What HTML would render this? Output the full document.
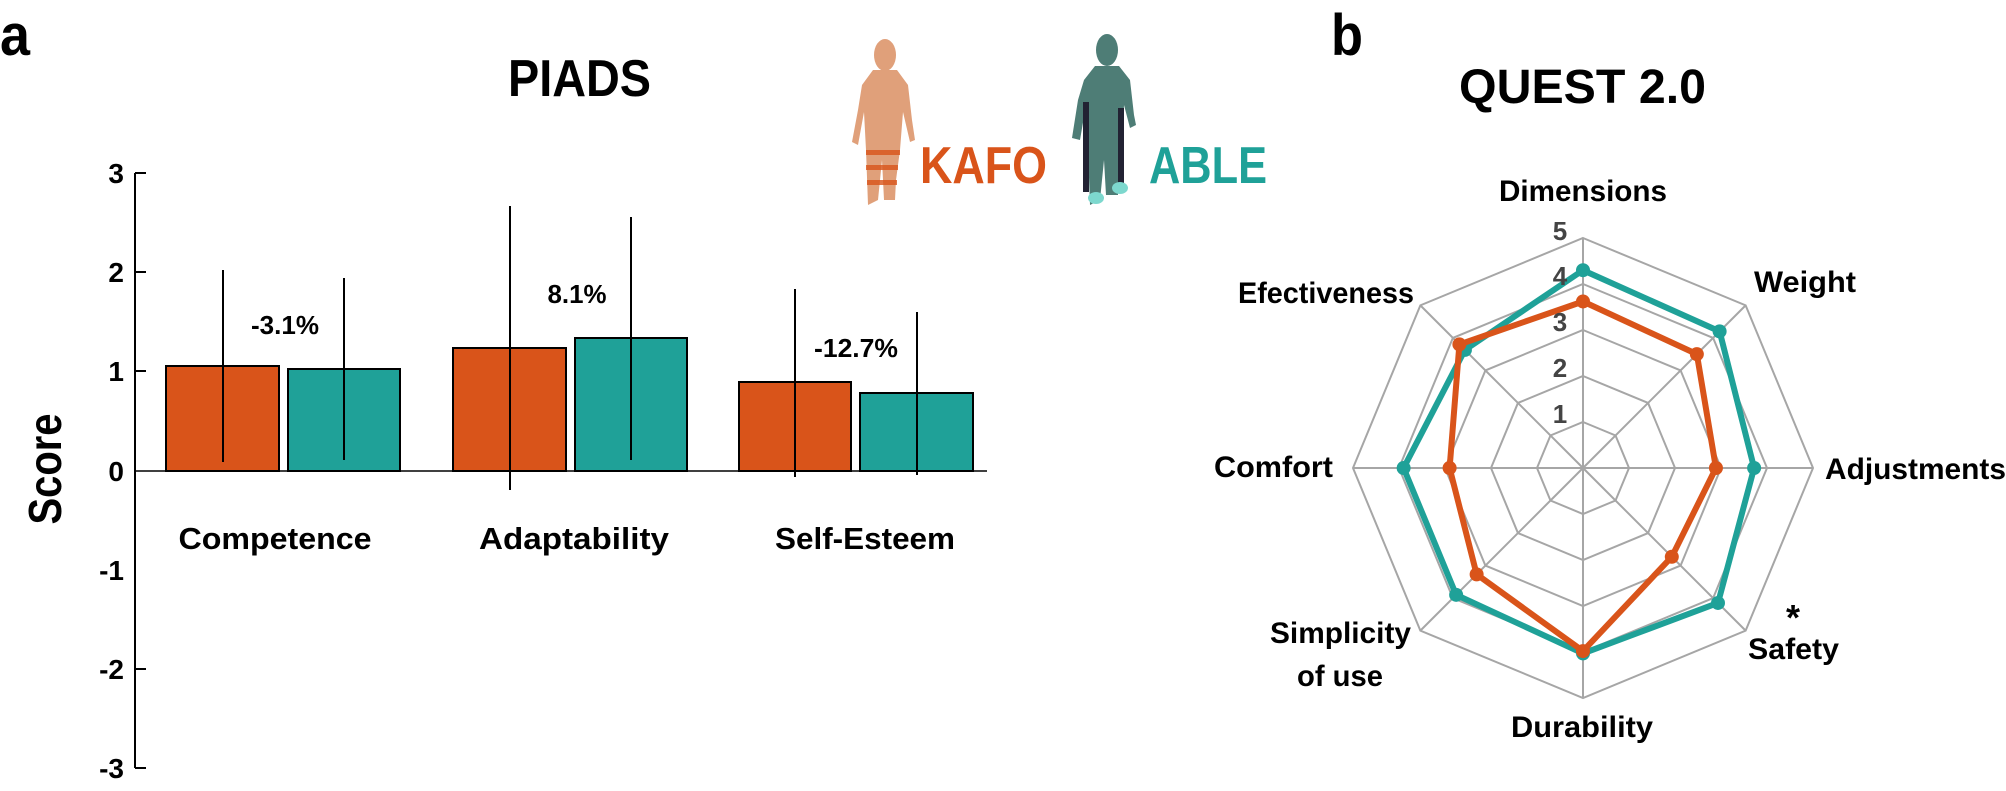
<!DOCTYPE html>
<html><head><meta charset="utf-8"><style>
html,body{margin:0;padding:0;background:#fff;}
svg{display:block;}
text{font-family:"Liberation Sans",sans-serif;font-weight:bold;}
</style></head><body>
<svg id="s" width="2006" height="791" viewBox="0 0 2006 791" xmlns="http://www.w3.org/2000/svg">
<rect width="2006" height="791" fill="#fff"/>
<text x="0" y="55" font-size="58" textLength="30" lengthAdjust="spacingAndGlyphs">a</text>
<text x="508" y="96" font-size="52" textLength="143" lengthAdjust="spacingAndGlyphs">PIADS</text>
<!-- axis -->
<g stroke="#000" stroke-width="2" fill="none">
<line x1="135" y1="173" x2="135" y2="768"/>
<line x1="135" y1="173" x2="146" y2="173"/>
<line x1="135" y1="272" x2="146" y2="272"/>
<line x1="135" y1="371" x2="146" y2="371"/>
<line x1="135" y1="669" x2="146" y2="669"/>
<line x1="135" y1="768" x2="146" y2="768"/>
</g>
<g font-size="28" text-anchor="end">
<text x="124" y="183">3</text><text x="124" y="282">2</text><text x="124" y="381">1</text>
<text x="124" y="481">0</text><text x="124" y="580">-1</text><text x="124" y="679">-2</text><text x="124" y="778">-3</text>
</g>
<g stroke="#000" stroke-width="2">
<rect x="166" y="366" width="113" height="105" fill="#D9541A"/>
<rect x="288" y="369" width="112" height="102" fill="#1FA198"/>
<rect x="453" y="348" width="113" height="123" fill="#D9541A"/>
<rect x="575" y="338" width="112" height="133" fill="#1FA198"/>
<rect x="739" y="382" width="112" height="89" fill="#D9541A"/>
<rect x="860" y="393" width="113" height="78" fill="#1FA198"/>
<line x1="135" y1="471" x2="987" y2="471" stroke-width="1.5"/>
<line x1="223" y1="270" x2="223" y2="462"/>
<line x1="344" y1="278" x2="344" y2="460"/>
<line x1="510" y1="206" x2="510" y2="490"/>
<line x1="631" y1="217" x2="631" y2="460"/>
<line x1="795" y1="289" x2="795" y2="477"/>
<line x1="917" y1="312" x2="917" y2="475"/>
</g>
<g font-size="26" text-anchor="middle">
<text x="285" y="334" textLength="68" lengthAdjust="spacingAndGlyphs">-3.1%</text>
<text x="577" y="303" textLength="59" lengthAdjust="spacingAndGlyphs">8.1%</text>
<text x="856" y="357" textLength="84" lengthAdjust="spacingAndGlyphs">-12.7%</text>
</g>
<g font-size="31" text-anchor="middle">
<text x="275" y="549" textLength="193" lengthAdjust="spacingAndGlyphs">Competence</text>
<text x="574" y="549" textLength="190" lengthAdjust="spacingAndGlyphs">Adaptability</text>
<text x="865" y="549" textLength="180" lengthAdjust="spacingAndGlyphs">Self-Esteem</text>
</g>
<text transform="translate(61,469) rotate(-90)" font-size="46" text-anchor="middle" textLength="111" lengthAdjust="spacingAndGlyphs">Score</text>
<!-- figures -->
<g fill="#E0A07A">
<ellipse cx="885" cy="55" rx="11" ry="16"/>
<path d="M873 70 L897 70 L908 85 L912 120 L915 140 L910 142 L903 112 L900 150 L896 180 L895 200 L884 200 L882 160 L878 200 L868 205 L866 150 L864 112 L858 145 L852 142 L858 110 L862 85 Z"/>
</g>
<g fill="#D9541A" opacity="0.8"><rect x="866" y="150" width="34" height="5"/><rect x="866" y="165" width="32" height="5"/><rect x="867" y="180" width="30" height="5"/></g>
<g fill="#4E7D76">
<ellipse cx="1107" cy="50" rx="11" ry="16"/>
<path d="M1095 66 L1119 66 L1130 80 L1134 115 L1136 125 L1130 128 L1124 105 L1122 150 L1118 175 L1118 195 L1106 195 L1104 160 L1100 200 L1090 205 L1088 150 L1086 105 L1080 140 L1072 138 L1078 100 L1084 80 Z"/>
</g>
<g fill="#223"><rect x="1083" y="102" width="6" height="90"/><rect x="1118" y="108" width="6" height="80"/></g>
<g fill="#7DD8CE"><ellipse cx="1096" cy="198" rx="8" ry="6"/><ellipse cx="1120" cy="188" rx="8" ry="6"/></g>
<text x="920" y="183" font-size="52" fill="#D9541A" textLength="127" lengthAdjust="spacingAndGlyphs">KAFO</text>
<text x="1149" y="183" font-size="52" fill="#1FA198" textLength="118" lengthAdjust="spacingAndGlyphs">ABLE</text>
<!-- panel b -->
<text x="1331" y="55" font-size="58" textLength="32" lengthAdjust="spacingAndGlyphs">b</text>
<text x="1459" y="103" font-size="48" textLength="247" lengthAdjust="spacingAndGlyphs">QUEST 2.0</text>
<g id="radar"></g>
<g font-size="26" fill="#444" text-anchor="middle">
<text x="1560" y="240">5</text><text x="1560" y="285">4</text><text x="1560" y="331">3</text>
<text x="1560" y="377">2</text><text x="1560" y="423">1</text>
</g>
<g font-size="30">
<text x="1499" y="201" textLength="168" lengthAdjust="spacingAndGlyphs">Dimensions</text>
<text x="1754" y="292" textLength="102" lengthAdjust="spacingAndGlyphs">Weight</text>
<text x="1825" y="479" textLength="181" lengthAdjust="spacingAndGlyphs">Adjustments</text>
<text x="1793" y="630" font-size="36" text-anchor="middle">*</text>
<text x="1748" y="659" textLength="91" lengthAdjust="spacingAndGlyphs">Safety</text>
<text x="1511" y="737" textLength="142" lengthAdjust="spacingAndGlyphs">Durability</text>
<text x="1270" y="643" textLength="141" lengthAdjust="spacingAndGlyphs">Simplicity</text>
<text x="1297" y="686" textLength="86" lengthAdjust="spacingAndGlyphs">of use</text>
<text x="1214" y="477" textLength="119" lengthAdjust="spacingAndGlyphs">Comfort</text>
<text x="1238" y="303" textLength="176" lengthAdjust="spacingAndGlyphs">Efectiveness</text>
</g>
</svg>
<script>
(function(){
var cx=1583,cy=468,u=46,ns="http://www.w3.org/2000/svg",g=document.getElementById("radar");
function el(t,a){var e=document.createElementNS(ns,t);for(var k in a)e.setAttribute(k,a[k]);g.appendChild(e);return e;}
function pt(i,r){var a=-Math.PI/2+i*Math.PI/4;return [cx+r*Math.cos(a),cy+r*Math.sin(a)];}
for(var l=1;l<=5;l++){var p=[];for(var i=0;i<8;i++){p.push(pt(i,l*u).join(","));}
el("polygon",{points:p.join(" "),fill:"none",stroke:"#a6a6a6","stroke-width":2});}
for(var i=0;i<8;i++){var q=pt(i,5*u);el("line",{x1:cx,y1:cy,x2:q[0],y2:q[1],stroke:"#a6a6a6","stroke-width":2});}
var teal=[4.3,4.2,3.72,4.15,4.03,3.9,3.9,3.63],org=[3.62,3.5,2.89,2.73,3.98,3.27,2.9,3.8];
[[teal,"#1FA198"],[org,"#D9541A"]].forEach(function(s){var p=[];for(var i=0;i<8;i++)p.push(pt(i,s[0][i]*u));
el("polygon",{points:p.map(function(a){return a.join(",")}).join(" "),fill:"none",stroke:s[1],"stroke-width":6,"stroke-linejoin":"round"});
p.forEach(function(a){el("circle",{cx:a[0],cy:a[1],r:7,fill:s[1]});});});
})();
</script>
</body></html>
